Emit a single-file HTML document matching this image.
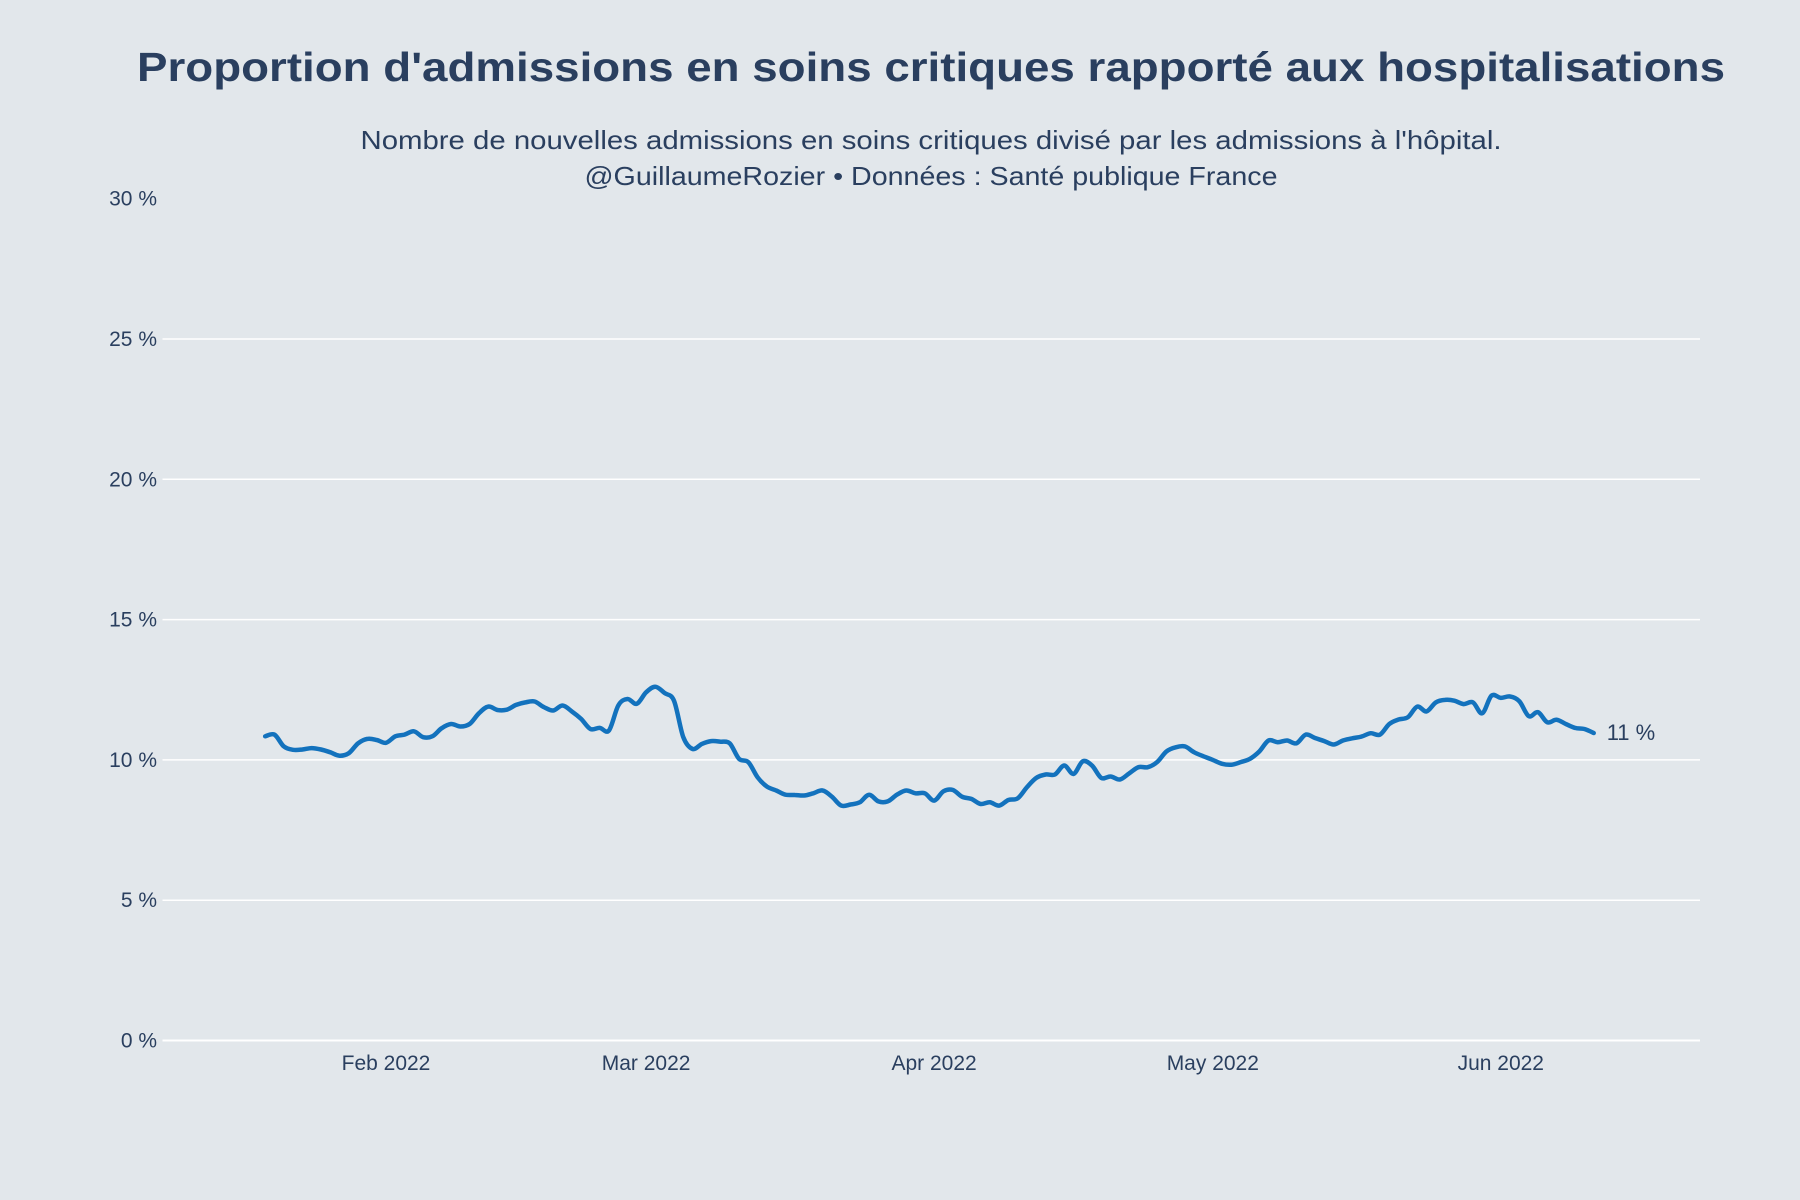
<!DOCTYPE html>
<html><head><meta charset="utf-8"><style>
html,body{margin:0;padding:0;background:#e2e7eb;}
svg{display:block;font-family:"Liberation Sans",sans-serif;}
</style></head><body>
<svg id="chart" width="1800" height="1200" viewBox="0 0 1800 1200">
<rect width="1800" height="1200" fill="#e2e7eb"/>
<text x="931" y="81" text-anchor="middle" font-size="41" font-weight="bold" fill="#2a3f5f" textLength="1588" lengthAdjust="spacingAndGlyphs">Proportion d'admissions en soins critiques rapporté aux hospitalisations</text>
<text x="931" y="149" text-anchor="middle" font-size="26" fill="#2a3f5f" textLength="1141" lengthAdjust="spacingAndGlyphs">Nombre de nouvelles admissions en soins critiques divisé par les admissions à l'hôpital.</text>
<text x="931" y="185" text-anchor="middle" font-size="26" fill="#2a3f5f" textLength="693" lengthAdjust="spacingAndGlyphs">@GuillaumeRozier • Données : Santé publique France</text>
<g id="grid"></g><g id="yticks"></g><g id="xticks"></g><g id="series"></g>
</svg>
<script>
const yTicks = [0, 5, 10, 15, 20, 25, 30];
const xTickLabels = ["Feb 2022", "Mar 2022", "Apr 2022", "May 2022", "Jun 2022"];
const xTickDays = [0, 28, 59, 89, 120]; // days since 2022-02-01
const startDay = -13; // 2022-01-19
const values = [10.84,10.90,10.48,10.36,10.37,10.42,10.37,10.27,10.15,10.24,10.59,10.75,10.71,
10.61,10.84,10.90,11.02,10.81,10.84,11.13,11.28,11.19,11.28,11.66,11.90,11.78,11.79,11.96,12.05,12.08,11.88,11.76,11.94,11.73,11.46,11.10,11.14,
11.05,11.94,12.17,12.00,12.41,12.61,12.38,12.11,10.81,10.39,10.57,10.67,10.65,10.59,10.04,9.92,9.38,9.05,8.91,8.76,8.75,8.73,8.81,8.91,8.69,8.37,8.41,8.49,8.76,8.52,8.52,8.76,8.91,8.81,8.81,
8.55,8.88,8.93,8.69,8.61,8.43,8.49,8.37,8.57,8.63,9.03,9.36,9.48,9.48,9.80,9.50,9.95,9.80,9.36,9.41,9.30,9.52,9.74,9.74,9.92,10.30,10.45,10.48,10.27,10.13,10.00,9.86,9.83,9.92,10.04,10.30,
10.69,10.63,10.69,10.59,10.90,10.78,10.67,10.55,10.69,10.77,10.83,10.95,10.90,11.28,11.44,11.52,11.90,11.73,12.05,12.14,12.11,11.99,12.05,11.66,12.29,12.21,12.26,12.09,11.56,11.70,11.34,11.43,11.28,11.14,11.10,10.96];
const lastLabel = "11 %";

const NS = "http://www.w3.org/2000/svg";
const X0 = 162.5, X1 = 1700;
const xScale = d => 386 + 9.29 * d;
const yScale = v => 1040.5 - v * 28.06;
function mk(tag, attrs, parent){ const e = document.createElementNS(NS, tag); for (const k in attrs) e.setAttribute(k, attrs[k]); parent.appendChild(e); return e; }
const grid = document.getElementById('grid'), yt = document.getElementById('yticks'), xt = document.getElementById('xticks'), ser = document.getElementById('series');
yTicks.forEach(t => {
  const y = yScale(t);
  if (t > 0 && t < 30) {
    const l = mk('line', {x1: X0, x2: X1, y1: y, y2: y, stroke: '#ffffff', 'stroke-width': 1.5}, grid);
    
    
  } else if (t === 0) {
    const l = mk('line', {x1: X0, x2: X1, y1: y, y2: y, stroke: '#ffffff', 'stroke-width': 2}, grid);
    
    
  }
  const tx = mk('text', {x: 157, y: y + 7, 'text-anchor': 'end', 'font-size': 21, fill: '#2a3f5f'}, yt);
  tx.textContent = t + ' %';
  
  
});
xTickLabels.forEach((lab, i) => {
  const tx = mk('text', {x: xScale(xTickDays[i]), y: 1070, 'text-anchor': 'middle', 'font-size': 21, fill: '#2a3f5f'}, xt);
  tx.textContent = lab;
  
  
});
const P = values.map((v, i) => [xScale(startDay + i), yScale(v)]);
let d = 'M' + P[0][0].toFixed(1) + ',' + P[0][1].toFixed(1);
for (let i = 0; i < P.length - 1; i++) {
  const p0 = P[Math.max(0, i - 1)], p1 = P[i], p2 = P[i + 1], p3 = P[Math.min(P.length - 1, i + 2)];
  const c1x = p1[0] + (p2[0] - p0[0]) / 6, c1y = p1[1] + (p2[1] - p0[1]) / 6;
  const c2x = p2[0] - (p3[0] - p1[0]) / 6, c2y = p2[1] - (p3[1] - p1[1]) / 6;
  d += ' C' + c1x.toFixed(1) + ',' + c1y.toFixed(1) + ' ' + c2x.toFixed(1) + ',' + c2y.toFixed(1) + ' ' + p2[0].toFixed(1) + ',' + p2[1].toFixed(1);
}
const line = mk('path', {d: d, fill: 'none', stroke: '#1372bd', 'stroke-width': 4.5, 'stroke-linejoin': 'round', 'stroke-linecap': 'round'}, ser);


const lastI = values.length - 1;
const ll = mk('text', {x: xScale(startDay + lastI) + 13, y: yScale(values[lastI]) + 7, 'font-size': 22, fill: '#2a3f5f'}, ser);
ll.textContent = lastLabel;


</script>
</body></html>
